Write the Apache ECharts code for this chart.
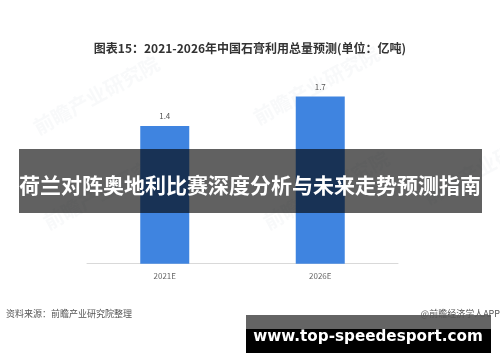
<!DOCTYPE html>
<html><head><meta charset="utf-8">
<script src="https://cdn.jsdelivr.net/npm/echarts@6/dist/echarts.min.js"></script>
<style>html,body{margin:0;padding:0;background:#fff}#c{width:500px;height:362px}</style>
</head><body><div id="c"></div>
<script>
const categories = ['2021E', '2026E'];
const values = [1.4, 1.7];
const titleText = '图表15：2021-2026年中国石膏利用总量预测(单位：亿吨)';
const bannerText = '荷兰对阵奥地利比赛深度分析与未来走势预测指南';
const sourceText = '资料来源：前瞻产业研究院整理';
const appText = '@前瞻经济学人APP';
const siteText = 'www.top-speedesport.com';
const FONT = '"Noto Sans CJK SC", "Noto Sans", sans-serif';

const chart = echarts.init(document.getElementById('c'), null, {renderer: 'canvas'});
const wm = [];
[[40,215],[260,215],[30,120],[250,110],[420,190]].forEach(p => {
  wm.push({type:'text', x:p[0], y:p[1], rotation: 0.5, z: 0,
    style:{text:'前瞻产业研究院', font:'bold 20px ' + FONT, fill:'rgba(200,210,220,0.13)'}});
});
chart.setOption({
  animation: false,
  title: {text: titleText, left: 'center', top: 37,
    textStyle: {fontFamily: FONT, fontSize: 12, fontWeight: 'bold', color: '#333'}},
  grid: {left: 87, right: 102, top: 67, bottom: 98.3},
  xAxis: {type: 'category', data: categories,
    axisLine: {lineStyle: {color: '#d9d9d9'}}, axisTick: {show: false},
    axisLabel: {fontFamily: FONT, fontSize: 8, color: '#666', margin: 8}},
  yAxis: {type: 'value', min: 0, max: 2, show: false, splitLine: {show: false}},
  series: [{type: 'bar', data: values, barWidth: 49,
    itemStyle: {color: '#3f84e0'},
    label: {show: true, position: 'top', distance: 6, fontFamily: FONT, fontSize: 8, color: '#555'}}],
  graphic: wm.concat([
    {type:'rect', shape:{x:19, y:149, width:463, height:64}, z: 100,
      style:{fill:'rgba(0,0,0,0.62)'}},
    {type:'text', x:250, y:185, z: 101,
      style:{text: bannerText, font:'bold 21px ' + FONT, fill:'#fff', align:'center', verticalAlign:'middle'}},
    {type:'text', x:6, y:314, z: 100,
      style:{text: sourceText, font:'9px ' + FONT, fill:'#555', verticalAlign:'middle'}},
    {type:'rect', shape:{x:246, y:315, width:245, height:38}, z: 100, style:{fill:'#000'}},
    {type:'rect', shape:{x:246, y:315, width:245, height:14}, z: 100, style:{fill:'#646464'}},
    {type:'text', x:500, y:314, z: 102,
      style:{text: appText, font:'9px ' + FONT, fill:'#555', align:'right', verticalAlign:'middle'}},
    {type:'text', x:368, y:337, z: 101,
      style:{text: siteText, font:'bold 15.2px "DejaVu Sans", ' + FONT, fill:'#fff', align:'center', verticalAlign:'middle'}}
  ])
});
</script></body></html>
